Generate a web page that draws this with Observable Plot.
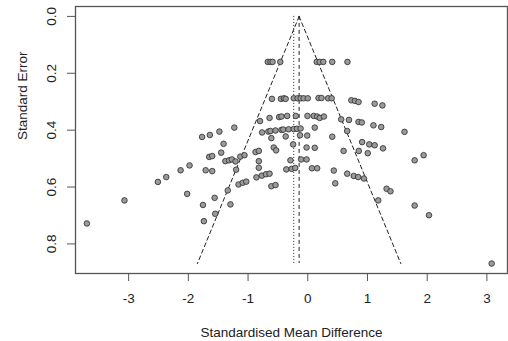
<!DOCTYPE html>
<html>
<head>
<meta charset="utf-8">
<script src="https://cdn.jsdelivr.net/npm/d3@7"></script>
<script src="https://cdn.jsdelivr.net/npm/@observablehq/plot@0.6"></script>
<style>
  html, body { margin: 0; padding: 0; background: #fff; }
  #chart svg { display: block; }
</style>
</head>
<body>
<div id="chart"></div>
<script>
// Standardised mean differences (study effects)
const smd = [
  -0.67,-0.625,-0.59,-0.46,0.15,0.20,0.26,0.41,0.665,
  -0.60,-0.45,-0.40,-0.37,-0.235,-0.17,-0.12,-0.07,0.0,0.18,0.23,0.34,0.40,0.73,0.79,0.85,1.12,1.25,
  -0.80,-0.64,-0.48,-0.44,-0.345,-0.20,-0.005,0.10,0.157,0.20,0.27,0.56,0.69,0.85,0.905,1.10,1.23,
  -1.77,-1.64,-1.48,-1.23,-0.765,-0.66,-0.625,-0.54,-0.44,-0.41,-0.32,-0.235,-0.18,-0.12,0.117,0.66,1.62,-0.61,-0.37,-0.13,-0.01,0.41,
  -1.41,-1.45,-1.65,-1.60,-1.38,-1.32,-1.27,-1.21,-1.13,-1.06,-0.875,-0.82,-0.82,-0.57,-0.53,-0.245,-0.02,0.117,0.60,0.854,0.91,1.03,1.12,1.26,1.005,-0.29,-0.11,-0.02,1.79,1.94,
  -1.98,-2.13,-2.37,-2.51,-1.71,-1.60,-1.20,-0.82,-0.86,-0.77,-0.70,-0.64,-0.36,-0.27,-0.21,0.07,0.157,0.436,0.66,0.77,0.844,0.94,
  -1.16,-1.09,-1.03,-1.34,-0.61,-0.54,0.46,1.32,1.385,1.18,-2.02,-1.56,-3.07,
  -1.755,-1.295,-1.55,-1.74,-3.70,1.79,2.03,3.08
];
// Standard errors
const se = [
  0.16,0.16,0.16,0.16,0.16,0.16,0.16,0.16,0.16,
  0.290,0.290,0.288,0.290,0.288,0.288,0.288,0.288,0.288,0.287,0.287,0.288,0.288,0.295,0.297,0.301,0.307,0.313,
  0.368,0.357,0.354,0.352,0.350,0.350,0.350,0.350,0.352,0.357,0.352,0.362,0.364,0.371,0.373,0.383,0.389,
  0.424,0.417,0.405,0.391,0.408,0.405,0.403,0.401,0.399,0.398,0.397,0.396,0.395,0.394,0.391,0.403,0.406,0.428,0.422,0.418,0.419,0.423,
  0.448,0.479,0.494,0.491,0.509,0.506,0.503,0.510,0.493,0.488,0.477,0.473,0.509,0.461,0.471,0.450,0.461,0.462,0.473,0.473,0.442,0.450,0.453,0.464,0.481,0.506,0.503,0.503,0.506,0.488,
  0.524,0.541,0.565,0.582,0.541,0.544,0.539,0.532,0.566,0.560,0.555,0.553,0.538,0.536,0.533,0.534,0.534,0.542,0.553,0.561,0.565,0.570,
  0.591,0.585,0.581,0.612,0.597,0.593,0.587,0.606,0.615,0.647,0.624,0.638,0.647,
  0.663,0.661,0.694,0.720,0.728,0.665,0.699,0.869
];
// Pooled estimates
const fixedEstimate = -0.145;
const randomEstimate = -0.235;
const zCrit = 1.96;

const xTicks = [-3, -2, -1, 0, 1, 2, 3];
const yTicks = [0.0, 0.2, 0.4, 0.6, 0.8];
const xLabel = "Standardised Mean Difference";
const yLabel = "Standard Error";

const studies = smd.map((d, i) => ({smd: d, se: se[i]}));
const seMax = d3.max(se);
const leftFunnel = [{x: fixedEstimate, y: 0}, {x: fixedEstimate - zCrit * seMax, y: seMax}];
const rightFunnel = [{x: fixedEstimate, y: 0}, {x: fixedEstimate + zCrit * seMax, y: seMax}];

const ink = "#222";
const chart = Plot.plot({
  width: 508,
  height: 341,
  marginLeft: 75,
  marginRight: 1,
  marginTop: 6,
  marginBottom: 68,
  style: {fontFamily: "'Liberation Sans', Arial, sans-serif", fontSize: "13.5px", color: ink, background: "#fff"},
  x: {domain: [-3.89, 3.345]},
  y: {domain: [-0.0348, 0.904], reverse: true},
  marks: [
    Plot.line(leftFunnel, {x: "x", y: "y", stroke: ink, strokeWidth: 1, strokeDasharray: "4,3"}),
    Plot.line(rightFunnel, {x: "x", y: "y", stroke: ink, strokeWidth: 1, strokeDasharray: "4,3"}),
    Plot.ruleX([fixedEstimate], {y1: 0, y2: seMax, stroke: ink, strokeWidth: 1, strokeDasharray: "4,3"}),
    Plot.ruleX([randomEstimate], {y1: 0, y2: seMax, stroke: ink, strokeWidth: 1, strokeDasharray: "1,2"}),
    Plot.dot(studies, {x: "smd", y: "se", r: 2.8, fill: "#9a9a9a", stroke: "#2a2a2a", strokeWidth: 0.8}),
    Plot.frame({stroke: "#555", strokeWidth: 1.3}),
    Plot.axisX({ticks: xTicks, tickSize: 8, tickPadding: 12, tickFormat: d => String(d), label: null, stroke: "#555"}),
    Plot.axisY({ticks: yTicks, tickSize: 8, tickPadding: 12, tickRotate: -90, tickFormat: d => d.toFixed(1), label: null, stroke: "#555"}),
    Plot.text([xLabel], {text: d => d, frameAnchor: "bottom", lineAnchor: "bottom", dy: 63, fill: ink}),
    Plot.text([yLabel], {text: d => d, frameAnchor: "left", rotate: -90, dx: -53, fill: ink})
  ]
});
document.getElementById("chart").append(chart);
</script>
</body>
</html>
